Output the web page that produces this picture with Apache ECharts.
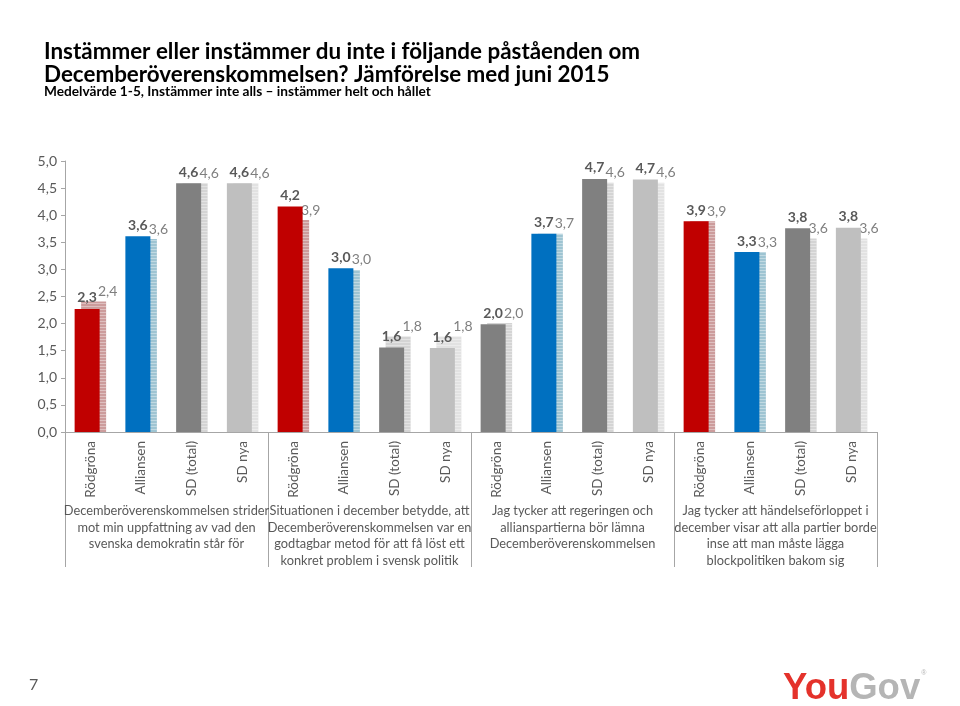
<!DOCTYPE html>
<html><head><meta charset="utf-8">
<script src="https://cdn.jsdelivr.net/npm/echarts@6/dist/echarts.min.js"></script>
<style>html,body{margin:0;padding:0;background:#fff}#c{width:960px;height:706px}</style>
</head><body><div id="c"></div>
<script>
const categories = ['Rödgröna','Alliansen','SD (total)','SD nya','Rödgröna','Alliansen','SD (total)','SD nya','Rödgröna','Alliansen','SD (total)','SD nya','Rödgröna','Alliansen','SD (total)','SD nya'];
const groupLabels = [
  'Decemberöverenskommelsen strider\nmot min uppfattning av vad den\nsvenska demokratin står för',
  'Situationen i december betydde, att\nDecemberöverenskommelsen var en\ngodtagbar metod för att få löst ett\nkonkret problem i svensk politik',
  'Jag tycker att regeringen och\nallianspartierna bör lämna\nDecemberöverenskommelsen',
  'Jag tycker att händelseförloppet i\ndecember visar att alla partier borde\ninse att man måste lägga\nblockpolitiken bakom sig'
];
const current = [2.27, 3.61, 4.59, 4.59, 4.16, 3.02, 1.56, 1.55, 1.99, 3.66, 4.67, 4.66, 3.89, 3.32, 3.76, 3.77];
const june2015 = [2.41, 3.56, 4.59, 4.59, 3.91, 2.99, 1.76, 1.76, 2.01, 3.66, 4.60, 4.60, 3.89, 3.32, 3.57, 3.57];
const yTicks = [0, 0.5, 1, 1.5, 2, 2.5, 3, 3.5, 4, 4.5, 5];

const curColors = ['#C00000','#0070C0','#808080','#BFBFBF'];
const junColors = ['#CC9C9C','#9EC4D2','#D4D4D4','#E2E2E2'];
const fmt = v => v.toFixed(1).replace('.', ',');
const font = 'Lato, "Open Sans", sans-serif';

const curData = current.map((v, i) => ({
  value: v,
  itemStyle: { color: (i === 8) ? '#808080' : curColors[i % 4] }
}));
const junData = june2015.map((v, i) => ({
  value: v,
  itemStyle: { color: (i === 8) ? '#D4D4D4' : junColors[i % 4] }
}));

const chart = echarts.init(document.getElementById('c'), null, { renderer: 'canvas' });
chart.setOption({
  backgroundColor: '#ffffff',
  animation: false,
  title: {
    left: 44, top: 40, padding: 0,
    text: 'Instämmer eller instämmer du inte i följande påståenden om\nDecemberöverenskommelsen? Jämförelse med juni 2015',
    textStyle: { fontFamily: font, fontSize: 22.4, fontWeight: 'bold', color: '#000', lineHeight: 23 }
  },
  grid: { left: 65, right: 83, top: 161, bottom: 274, containLabel: false },
  xAxis: [
    {
      type: 'category', data: categories, position: 'bottom',
      axisLine: { show: true, lineStyle: { color: '#A6A6A6', width: 1 } },
      axisTick: { show: false },
      axisLabel: { interval: 0, rotate: 90, margin: 9, color: '#595959', fontFamily: font, fontSize: 13.5 },
      splitLine: { show: false }
    },
    {
      type: 'category', data: groupLabels, position: 'bottom',
      axisLine: { show: false },
      axisTick: { show: true, length: 135, inside: false, lineStyle: { color: '#A6A6A6', width: 1 } },
      axisLabel: { interval: 0, margin: 71, color: '#595959', fontFamily: font, fontSize: 12.8, lineHeight: 16.4, align: 'center', verticalAlign: 'top' },
      splitLine: { show: false }
    }
  ],
  yAxis: {
    type: 'value', min: 0, max: 5, interval: 0.5,
    axisLine: { show: true, lineStyle: { color: '#A6A6A6', width: 1 } },
    axisTick: { show: true, length: 4, lineStyle: { color: '#A6A6A6' } },
    axisLabel: { margin: 8, color: '#595959', fontFamily: font, fontSize: 14, formatter: v => fmt(v) },
    splitLine: { show: false }
  },
  series: [
    {
      name: 'Nu', type: 'bar', xAxisIndex: 0, data: curData, barWidth: 25, barGap: '-74%', z: 4,
      label: { show: true, position: 'top', distance: 4, color: '#595959', fontFamily: font, fontSize: 14, fontWeight: 'bold', formatter: p => fmt(p.value) }
    },
    {
      name: 'Juni 2015', type: 'bar', xAxisIndex: 0, data: junData, barWidth: 25, z: 2,
      itemStyle: { decal: { symbol: 'rect', symbolSize: 1, dashArrayX: [1, 0], dashArrayY: [1, 2], rotation: 0, color: 'rgba(255,255,255,0.35)' } },
      label: { show: true, position: 'top', distance: 3, offset: [14, 0], color: '#7F7F7F', fontFamily: font, fontSize: 14, formatter: p => fmt(p.value) }
    }
  ],
  graphic: [
    { type: 'text', left: 44, top: 85, style: { text: 'Medelvärde 1-5, Instämmer inte alls – instämmer helt och hållet', fontFamily: font, fontSize: 13.7, fontWeight: 'bold', fill: '#000' } },
    { type: 'text', left: 29, top: 677, style: { text: '7', fontFamily: font, fontSize: 16, fill: '#595959' } },
    { type: 'text', left: 783, top: 670, style: {
        text: '{a|You}{b|Gov}{c|®}',
        rich: {
          a: { fontFamily: '"Liberation Sans Narrow", "Liberation Sans", sans-serif', fontWeight: 'bold', fontSize: 36.5, fill: '#E4322B' },
          b: { fontFamily: '"Liberation Sans Narrow", "Liberation Sans", sans-serif', fontWeight: 'bold', fontSize: 36.5, fill: '#B5B5B5' },
          c: { fontFamily: 'sans-serif', fontSize: 7, fill: '#B5B5B5', verticalAlign: 'top', padding: [0, 0, 20, 1] }
        }
      } }
  ]
});
</script>
</body></html>
